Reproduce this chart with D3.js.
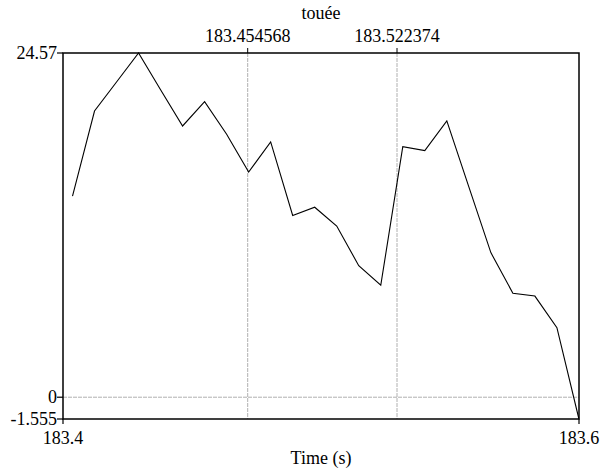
<!DOCTYPE html>
<html>
<head>
<meta charset="utf-8">
<script src="https://cdn.jsdelivr.net/npm/d3@7"></script>
<style>
  html, body { margin: 0; padding: 0; background: #fff; }
</style>
</head>
<body>
<svg id="chart" width="601" height="470"></svg>
<script>
// Sample times (s), one frame every 10 ms
const times = [183.375, 183.385, 183.395, 183.405, 183.415, 183.425, 183.435, 183.445,
               183.455, 183.465, 183.475, 183.485, 183.495, 183.505, 183.515, 183.525,
               183.535, 183.545, 183.555, 183.565, 183.575, 183.585, 183.595, 183.605];
// Measured values at each frame
const values = [14.36, 20.43, 22.5, 24.57, 21.95, 19.36, 21.09, 18.77,
                16.07, 18.22, 12.97, 13.56, 12.22, 9.39, 7.99, 17.88,
                17.60, 19.72, 15.01, 10.32, 7.42, 7.22, 4.96, -1.555];

// Visible window
const xDomain = [183.370686, 183.60503];
const yDomain = [-1.555, 24.57];

// Axis labels
const xEndLabels = ["183.4", "183.6"];
const yTickValues = [24.57, 0, -1.555];
const yTickLabels = ["24.57", "0", "-1.555"];
const markerTimes = [183.454568, 183.522374];
const markerLabels = ["183.454568", "183.522374"];
const title = "touée";
const xTitle = "Time (s)";

const FONT = "'Liberation Serif', 'Times New Roman', Times, 'DejaVu Serif', serif";

const svg = d3.select("#chart")
  .attr("font-family", FONT)
  .attr("font-size", 18);
const L = 63, R = 579, T = 53, B = 419;

const x = d3.scaleLinear().domain(xDomain).range([L, R]);
const y = d3.scaleLinear().domain(yDomain).range([B, T]);

// Dotted reference lines: zero level and the two time markers
svg.append("line")
  .attr("x1", L).attr("x2", R)
  .attr("y1", y(0)).attr("y2", y(0))
  .attr("stroke", "#b0b0b0").attr("stroke-width", 1)
  .attr("stroke-dasharray", "4,1");

svg.selectAll("line.marker").data(markerTimes).join("line")
  .attr("class", "marker")
  .attr("x1", d => x(d)).attr("x2", d => x(d))
  .attr("y1", T).attr("y2", B)
  .attr("stroke", "#b0b0b0").attr("stroke-width", 1)
  .attr("stroke-dasharray", "4,1");

// Data curve
const line = d3.line()
  .x((d, i) => x(times[i]))
  .y(d => y(d));
svg.append("path")
  .datum(values)
  .attr("d", line)
  .attr("fill", "none")
  .attr("stroke", "#000")
  .attr("stroke-width", 1.1)
  .attr("stroke-linejoin", "miter");

// Frame
svg.append("rect")
  .attr("x", L).attr("y", T)
  .attr("width", R - L).attr("height", B - T)
  .attr("fill", "none").attr("stroke", "#000").attr("stroke-width", 1.5);

// Left axis: ticks and labels
const yAxisG = svg.append("g");
yAxisG.selectAll("line").data(yTickValues).join("line")
  .attr("x1", L - 6).attr("x2", L)
  .attr("y1", d => y(d)).attr("y2", d => y(d))
  .attr("stroke", "#000").attr("stroke-width", 1.2);
yAxisG.selectAll("text").data(yTickValues).join("text")
  .attr("x", L - 6)
  .attr("y", d => y(d))
  .attr("dy", "0.34em")
  .attr("text-anchor", "end")
  .text((d, i) => yTickLabels[i]);

// Bottom axis: end ticks and labels
const xAxisG = svg.append("g");
xAxisG.selectAll("line").data(xDomain).join("line")
  .attr("x1", d => x(d)).attr("x2", d => x(d))
  .attr("y1", B).attr("y2", B + 5)
  .attr("stroke", "#000").attr("stroke-width", 1.2);
xAxisG.selectAll("text").data(xDomain).join("text")
  .attr("x", d => x(d))
  .attr("y", 444)
  .attr("text-anchor", "middle")
  .text((d, i) => xEndLabels[i]);

// Top marker ticks and labels
const markerG = svg.append("g");
markerG.selectAll("line").data(markerTimes).join("line")
  .attr("x1", d => x(d)).attr("x2", d => x(d))
  .attr("y1", T - 5).attr("y2", T)
  .attr("stroke", "#000").attr("stroke-width", 1);
markerG.selectAll("text").data(markerTimes).join("text")
  .attr("x", d => x(d))
  .attr("y", 42)
  .attr("text-anchor", "middle")
  .text((d, i) => markerLabels[i]);

// Titles
svg.append("text")
  .attr("x", (L + R) / 2).attr("y", 19)
  .attr("text-anchor", "middle")
  .text(title);
svg.append("text")
  .attr("x", (L + R) / 2).attr("y", 464)
  .attr("text-anchor", "middle")
  .text(xTitle);
</script>
</body>
</html>
